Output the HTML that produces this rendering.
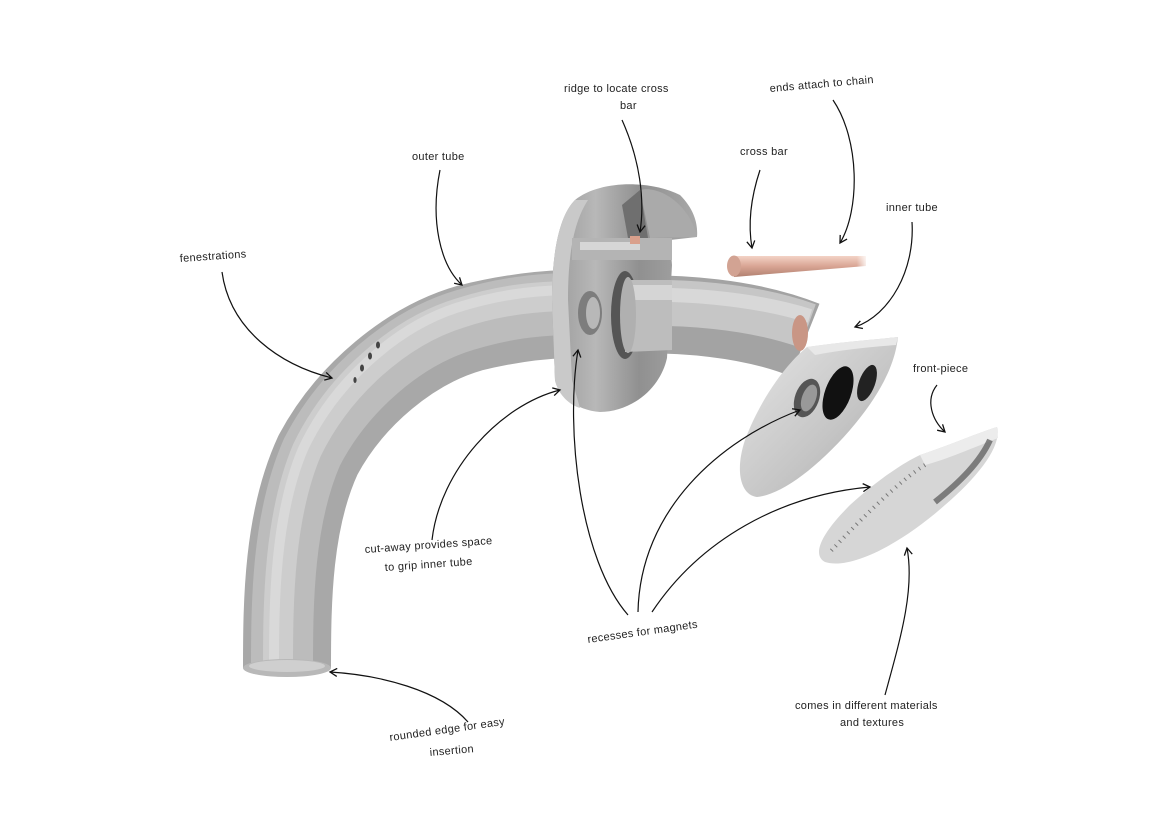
<!DOCTYPE html>
<html><head><meta charset="utf-8"><style>
html,body{margin:0;padding:0;background:#fff;}
svg{display:block;}
text{font-family:"Liberation Sans",sans-serif;font-size:11px;fill:#222;letter-spacing:0.3px;}
</style></head><body>
<svg width="1168" height="826" viewBox="0 0 1168 826" xmlns="http://www.w3.org/2000/svg">
<defs>
<marker id="ah" markerWidth="10" markerHeight="10" refX="8" refY="5" orient="auto" markerUnits="userSpaceOnUse">
<path d="M1,1 L8,5 L1,9" fill="none" stroke="#111" stroke-width="1.3"/>
</marker>
<linearGradient id="fl" x1="0" y1="0" x2="1" y2="0">
<stop offset="0" stop-color="#9a9a9a"/><stop offset="0.3" stop-color="#b8b8b8"/><stop offset="0.6" stop-color="#909090"/><stop offset="1" stop-color="#a8a8a8"/>
</linearGradient>
<linearGradient id="fp" x1="0" y1="0" x2="1" y2="1">
<stop offset="0" stop-color="#e6e6e6"/><stop offset="0.6" stop-color="#c4c4c4"/><stop offset="1" stop-color="#a0a0a0"/>
</linearGradient>
<linearGradient id="cu" x1="0" y1="0" x2="0" y2="1">
<stop offset="0" stop-color="#f3d3c6"/><stop offset="0.5" stop-color="#d8a493"/><stop offset="1" stop-color="#b08070"/>
</linearGradient>
<linearGradient id="cuf" x1="0" y1="0" x2="1" y2="0">
<stop offset="0.8" stop-color="#fff" stop-opacity="0"/><stop offset="1" stop-color="#fff" stop-opacity="0.8"/>
</linearGradient>
</defs>

<!-- outer tube -->
<path d="M287,668 C287,600 288,520 318,455 C350,395 410,345 470,328 C510,318 540,315 565,314" fill="none" stroke="#a8a8a8" stroke-width="88"/>
<path d="M282,668 C282,600 283,518 312,452 C344,390 404,338 465,320 C505,308 535,305 565,304" fill="none" stroke="#bcbcbc" stroke-width="62"/>
<path d="M278,668 C278,600 279,516 307,450 C338,386 398,332 460,313 C500,300 532,297 565,296" fill="none" stroke="#cdcdcd" stroke-width="30"/>
<path d="M274,668 C274,600 275,515 303,449 C334,383 395,328 456,308 C497,295 530,291 565,290" fill="none" stroke="#d9d9d9" stroke-width="10"/>
<ellipse cx="287" cy="668" rx="44" ry="9" fill="#b8b8b8"/>
<ellipse cx="287" cy="666" rx="38" ry="6" fill="#cfcfcf"/>
<!-- fenestrations -->
<g fill="#444"><ellipse cx="378" cy="345" rx="2" ry="3.5"/><ellipse cx="370" cy="356" rx="2" ry="3.5"/><ellipse cx="362" cy="368" rx="2" ry="3.5"/><ellipse cx="355" cy="380" rx="1.6" ry="3"/></g>

<!-- inner tube -->
<path d="M612,315 C680,312 750,318 805,340" fill="none" stroke="#a3a3a3" stroke-width="78"/>
<path d="M612,304 C680,300 752,306 808,326" fill="none" stroke="#c6c6c6" stroke-width="46"/>
<path d="M612,296 C680,292 752,298 810,316" fill="none" stroke="#d8d8d8" stroke-width="14"/>
<ellipse cx="800" cy="333" rx="8" ry="18" fill="#c99685"/>

<!-- flange -->
<path d="M575,200 C600,180 650,180 680,195 C695,210 698,225 697,237 L670,240 L672,265 L667,358 C660,390 630,412 600,412 C575,410 558,395 555,380 L552,300 C552,250 560,215 575,200 Z" fill="url(#fl)"/>
<path d="M575,200 C560,215 552,250 552,300 L555,380 C558,395 570,405 580,408 L572,380 L568,300 C568,250 575,220 588,200 Z" fill="#c9c9c9"/>
<path d="M640,190 C660,185 690,205 697,237 L650,238 Z" fill="#aaaaaa"/>
<path d="M622,205 L640,190 L648,238 L628,238 Z" fill="#6f6f6f"/>
<rect x="572" y="238" width="100" height="22" fill="#b4b4b4"/>
<rect x="580" y="242" width="60" height="8" fill="#d6d6d6"/>
<rect x="630" y="236" width="10" height="8" fill="#d9a08c"/>
<ellipse cx="625" cy="315" rx="14" ry="44" fill="#555"/>
<path d="M625,280 L672,280 L672,350 L625,352 Z" fill="#bdbdbd"/>
<path d="M625,285 L672,285 L672,300 L625,300 Z" fill="#d5d5d5"/>
<ellipse cx="628" cy="315" rx="8" ry="38" fill="#b0b0b0"/>
<ellipse cx="590" cy="313" rx="12" ry="22" fill="#7d7d7d"/>
<ellipse cx="593" cy="313" rx="7" ry="16" fill="#b8b8b8"/>

<!-- front inner piece -->
<path d="M807,347 C840,342 870,340 898,337 C895,365 880,395 850,430 C815,470 780,495 757,497 C740,495 735,470 745,440 C760,400 785,365 807,347 Z" fill="url(#fp)"/>
<path d="M807,347 C840,342 870,340 898,337 L896,345 C870,347 840,350 815,355 Z" fill="#e8e8e8"/>
<ellipse cx="807" cy="398" rx="12" ry="20" fill="#555" transform="rotate(20 807 398)"/>
<ellipse cx="809" cy="398" rx="7" ry="14" fill="#999" transform="rotate(20 809 398)"/>
<ellipse cx="838" cy="393" rx="13" ry="28" fill="#111" transform="rotate(20 838 393)"/>
<ellipse cx="867" cy="383" rx="8" ry="19" fill="#222" transform="rotate(20 867 383)"/>

<!-- cross bar -->
<path d="M734,256 L866,256 L866,266 L734,277 Z" fill="url(#cu)"/>
<path d="M820,255 L866,255 L866,267 L820,269 Z" fill="url(#cuf)"/>
<ellipse cx="734" cy="266" rx="7" ry="10.5" fill="#d2a393"/>

<!-- front-piece disc -->
<path d="M997,427 C1002,445 980,475 945,505 C900,545 850,570 825,562 C812,555 820,535 850,505 C880,478 905,462 920,455 C950,445 980,432 997,427 Z" fill="#d6d6d6"/>
<path d="M920,455 C950,445 980,432 997,427 L998,438 C975,447 945,460 925,465 Z" fill="#ececec"/>
<path d="M925,465 C900,480 860,520 830,552" fill="none" stroke="#777" stroke-width="4" stroke-dasharray="1 5"/>
<path d="M990,440 C980,462 960,482 935,502" fill="none" stroke="#555" stroke-width="6" opacity="0.7"/>

<!-- arrows -->
<g fill="none" stroke="#111" stroke-width="1.2" marker-end="url(#ah)">
<path d="M222,272 C230,330 280,365 332,378"/>
<path d="M440,170 C430,220 440,265 462,285"/>
<path d="M622,120 C640,160 645,200 640,232"/>
<path d="M760,170 C750,200 748,225 752,248"/>
<path d="M833,100 C860,140 860,210 840,243"/>
<path d="M912,222 C915,270 890,315 855,327"/>
<path d="M937,385 C925,400 932,420 945,432"/>
<path d="M432,540 C440,470 500,405 560,390"/>
<path d="M628,615 C580,560 565,430 578,350"/>
<path d="M638,612 C640,510 720,440 800,410"/>
<path d="M652,612 C700,540 780,495 870,487"/>
<path d="M468,722 C440,690 380,675 330,672"/>
<path d="M885,695 C900,640 915,590 907,548"/>
</g>

<!-- labels -->
<text x="564" y="92">ridge to locate cross</text>
<text x="620" y="109">bar</text>
<text x="770" y="92" transform="rotate(-5 770 92)">ends attach to chain</text>
<text x="412" y="160">outer tube</text>
<text x="740" y="155">cross bar</text>
<text x="886" y="211">inner tube</text>
<text x="180" y="262" transform="rotate(-4 180 262)">fenestrations</text>
<text x="913" y="372">front-piece</text>
<text x="365" y="553" transform="rotate(-4 365 553)">cut-away provides space</text>
<text x="385" y="571" transform="rotate(-4 385 571)">to grip inner tube</text>
<text x="588" y="643" transform="rotate(-8 588 643)">recesses for magnets</text>
<text x="390" y="741" transform="rotate(-8 390 741)">rounded edge for easy</text>
<text x="430" y="756" transform="rotate(-5 430 756)">insertion</text>
<text x="795" y="709">comes in different materials</text>
<text x="840" y="726">and textures</text>
</svg>
</body></html>
